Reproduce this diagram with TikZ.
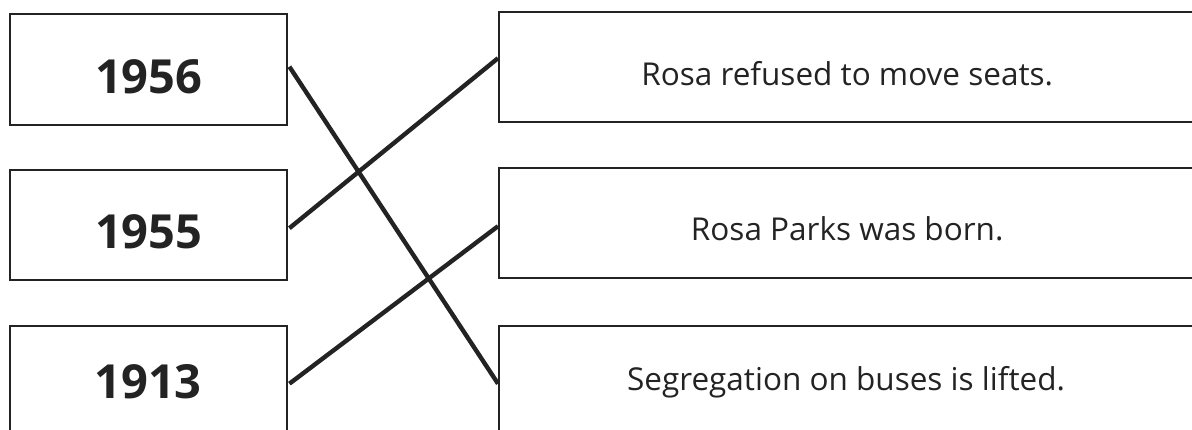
\documentclass[tikz,border=0pt]{standalone}
\usepackage{fontspec}
\setmainfont{Open Sans}
\definecolor{ink}{HTML}{232323}
\begin{document}
\begin{tikzpicture}[x=1pt,y=1pt,
  yearbox/.style={draw=ink,line width=2.4pt,minimum width=277pt,inner sep=0pt,anchor=north west},
  eventbox/.style={draw=ink,line width=2.4pt,minimum width=702pt,inner sep=0pt,anchor=north west},
  yeartext/.style={text=ink,font=\fontsize{47}{50}\selectfont\bfseries,inner sep=0pt},
  eventtext/.style={text=ink,font=\fontsize{31.5}{34}\selectfont,inner sep=0pt},
  link/.style={draw=ink,line width=4.4pt}]
\useasboundingbox (0,0) rectangle (1192,430);
\clip (0,0) rectangle (1192,430);
% left boxes
\node[yearbox,minimum height=111pt] (b56) at (9,417) {};
\node[yearbox,minimum height=110pt] (b55) at (9,261) {};
\node[yearbox,minimum height=115pt] (b13) at (9,105) {};
% right boxes
\node[eventbox,minimum height=110pt] (r1) at (498,419) {};
\node[eventbox,minimum height=110pt] (r2) at (498,263) {};
\node[eventbox,minimum height=115pt] (r3) at (498,105) {};
% texts
\node[yeartext] (t56) at ([yshift=-7pt]b56.center) {1956};
\node[yeartext] (t55) at ([yshift=-7pt]b55.center) {1955};
\node[yeartext] (t13) at (148,48) {1913};
\node[eventtext] (e1) at ([xshift=-3pt,yshift=-6pt]r1.center) {Rosa refused to move seats.};
\node[eventtext] (e2) at ([xshift=-3pt,yshift=-6pt]r2.center) {Rosa Parks was born.};
\node[eventtext] (e3) at (846,48) {Segregation on buses is lifted.};
% connectors
\draw[link] ([xshift=1pt,yshift=3pt]b56.east) -- (r3.west);
\draw[link] ([xshift=1pt,yshift=-3pt]b55.east) -- ([yshift=9pt]r1.west);
\draw[link] ([xshift=1pt]b13.east) -- ([yshift=-3pt]r2.west);
\end{tikzpicture}
\end{document}
